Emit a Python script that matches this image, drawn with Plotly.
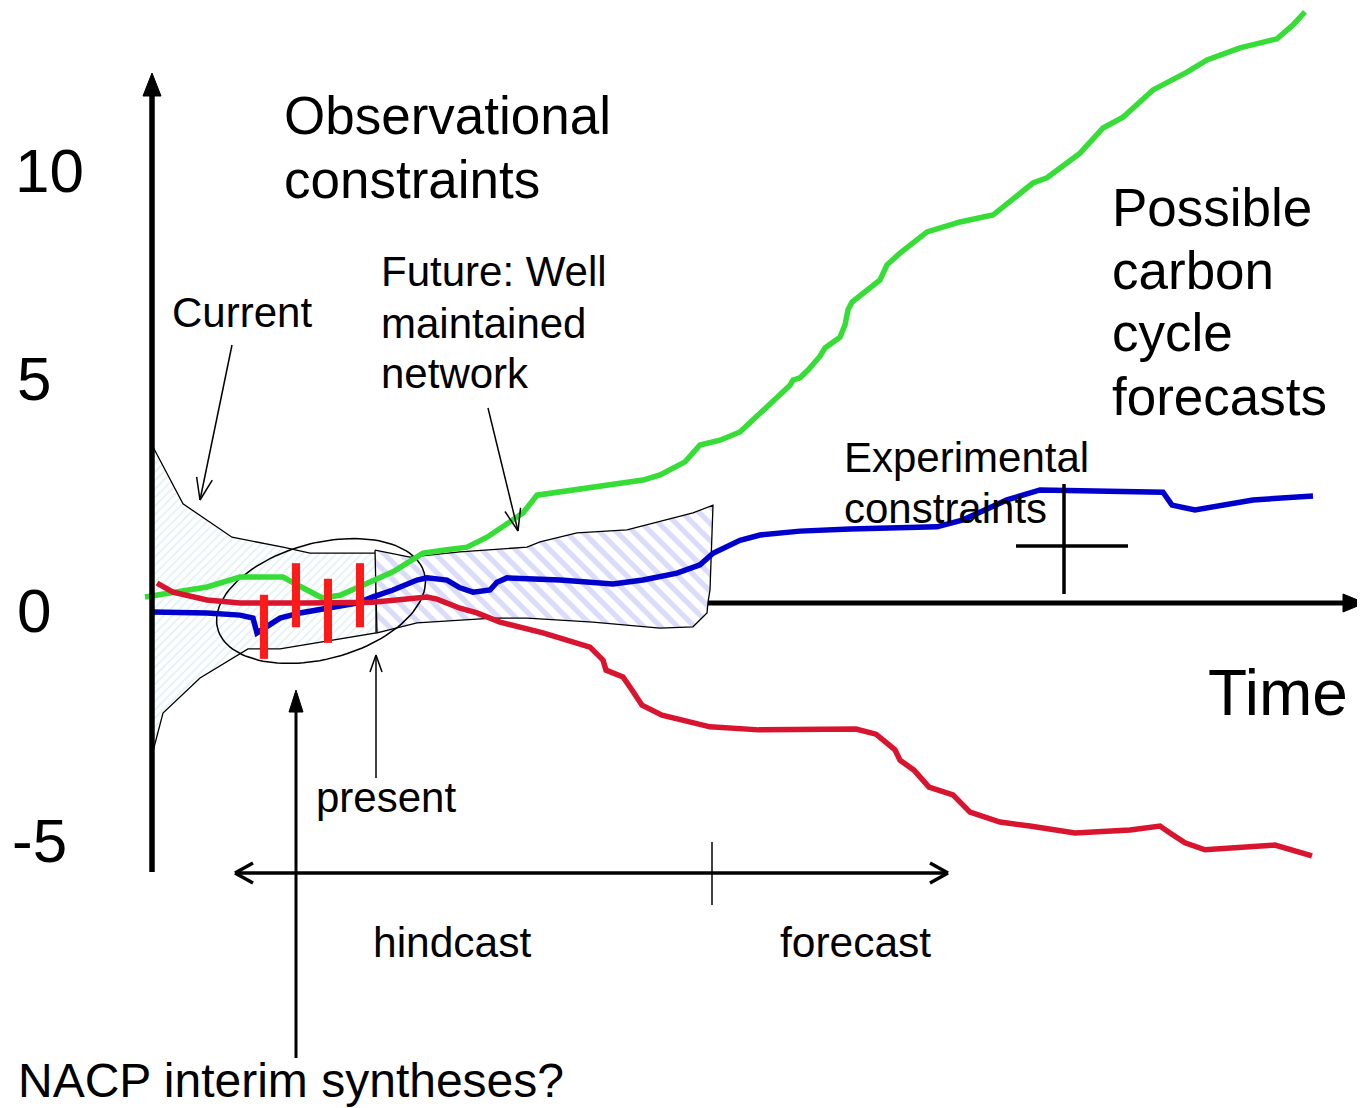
import math
import plotly.graph_objects as go

# ---------------- data (x: time units, y: flux units) ----------------
green_x = [145, 173, 207, 240, 283, 297, 322, 340, 367, 393, 407, 423, 443, 467, 487, 507, 523, 537,
           560, 593, 643, 660, 685, 700, 720, 740, 760, 775, 790, 793, 800, 808, 820, 825, 840, 845,
           848, 852, 880, 887, 900, 927, 960, 993, 1033, 1047, 1080, 1103, 1123, 1153, 1187, 1207,
           1240, 1277, 1293, 1305]
green_y = [0.14, 0.25, 0.37, 0.60, 0.60, 0.42, 0.12, 0.18, 0.46, 0.72, 0.92, 1.15, 1.22, 1.29, 1.52,
           1.85, 2.08, 2.49, 2.56, 2.68, 2.84, 2.96, 3.26, 3.65, 3.76, 3.95, 4.39, 4.73, 5.03, 5.15,
           5.20, 5.38, 5.70, 5.89, 6.14, 6.42, 6.77, 6.95, 7.46, 7.81, 8.08, 8.57, 8.80, 8.96, 9.70,
           9.82, 10.39, 10.97, 11.22, 11.85, 12.26, 12.54, 12.82, 13.03, 13.35, 13.65]

blue_x = [152, 207, 240, 253, 257, 267, 280, 300, 327, 357, 373, 393, 417, 427, 447, 460, 473, 490,
          497, 507, 560, 600, 613, 643, 677, 700, 713, 740, 760, 800, 850, 937, 963, 1007, 1040,
          1163, 1172, 1195, 1253, 1313]
blue_y = [-0.21, -0.23, -0.28, -0.35, -0.69, -0.55, -0.35, -0.23, -0.12, 0.00, 0.14, 0.30, 0.53,
          0.58, 0.53, 0.35, 0.25, 0.30, 0.48, 0.58, 0.53, 0.48, 0.44, 0.53, 0.69, 0.88, 1.15, 1.45,
          1.57, 1.66, 1.71, 1.76, 1.92, 2.38, 2.61, 2.56, 2.26, 2.15, 2.38, 2.47]

red_x = [157, 173, 207, 240, 307, 373, 427, 437, 460, 477, 500, 543, 590, 603, 606, 623, 632, 642,
         662, 710, 759, 856, 876, 895, 900, 914, 929, 953, 970, 1000, 1030, 1075, 1130, 1160, 1170,
         1185, 1205, 1240, 1275, 1312]
red_y = [0.46, 0.25, 0.07, 0.00, 0.00, 0.02, 0.14, 0.09, -0.12, -0.23, -0.44, -0.69, -1.02, -1.32,
         -1.55, -1.71, -2.01, -2.36, -2.59, -2.86, -2.93, -2.91, -3.03, -3.39, -3.63, -3.86, -4.25,
         -4.43, -4.83, -5.06, -5.15, -5.31, -5.24, -5.15, -5.31, -5.54, -5.70, -5.64, -5.59, -5.84]

# interim syntheses (centre and half-range)
synth_x = [264, 296, 328, 360]
synth_y = [-0.55, 0.18, -0.18, 0.18]
synth_err = [0.74, 0.74, 0.74, 0.74]

# observational constraint envelopes
current_x = [152, 183, 232, 283, 310, 376, 376, 280, 248, 200, 163, 152]
current_y = [3.65, 2.29, 1.52, 1.29, 1.15, 1.15, -0.69, -1.06, -1.06, -1.73, -2.54, -3.51]

future_x = [375, 410, 460, 527, 540, 577, 627, 693, 713, 710, 708, 707, 693, 660, 593, 527, 493,
            417, 377, 375]
future_y = [1.22, 1.06, 1.18, 1.29, 1.41, 1.62, 1.69, 2.08, 2.26, 0.30, 0.02, -0.23, -0.55, -0.58,
            -0.44, -0.35, -0.35, -0.46, -0.69, 1.22]

tick_labels = ["10", "5", "0", "-5"]

# ---------------- scale helpers for decorations ----------------
W, H = 1365, 1108
OFF = 8  # page body margin of the HTML page
Y0PIX, PXU = 603.0, 43.3


def Y(py):
    return (Y0PIX - py) / PXU


FONT = "Liberation Sans, Arial, sans-serif"

fig = go.Figure()

# envelopes
fig.add_trace(go.Scatter(
    x=current_x, y=current_y, mode="lines", fill="toself",
    line=dict(color="black", width=1.3),
    fillcolor="white",
    fillpattern=dict(shape="/", fgcolor="#c4e4ea", bgcolor="white", size=6, solidity=0.3),
    hoverinfo="skip", showlegend=False))
fig.add_trace(go.Scatter(
    x=future_x, y=future_y, mode="lines", fill="toself",
    line=dict(color="black", width=1.3),
    fillcolor="white",
    fillpattern=dict(shape="\\", fgcolor="#b8b8f5", bgcolor="white", size=12, solidity=0.45),
    hoverinfo="skip", showlegend=False))

# ellipse around the interim-synthesis period
cx, cy, a, b, th = 321, 601, 107, 58, math.radians(15)
ex, ey = [], []
for i in range(121):
    t = 2 * math.pi * i / 120
    px = cx + a * math.cos(t) * math.cos(th) - b * math.sin(t) * math.sin(th)
    py = cy - (a * math.cos(t) * math.sin(th) + b * math.sin(t) * math.cos(th))
    ex.append(px)
    ey.append(Y(py))
fig.add_trace(go.Scatter(x=ex, y=ey, mode="lines", line=dict(color="black", width=1.5),
                         hoverinfo="skip", showlegend=False))

# forecast lines
fig.add_trace(go.Scatter(x=green_x, y=green_y, mode="lines",
                         line=dict(color="#36dd36", width=5.5), showlegend=False))
fig.add_trace(go.Scatter(x=blue_x, y=blue_y, mode="lines",
                         line=dict(color="#0000cc", width=5.5), showlegend=False))
fig.add_trace(go.Scatter(x=red_x, y=red_y, mode="lines",
                         line=dict(color="#d9142e", width=5.5), showlegend=False))

# interim syntheses bars
fig.add_trace(go.Scatter(x=synth_x, y=synth_y, mode="markers",
                         marker=dict(size=1, color="rgba(0,0,0,0)"),
                         error_y=dict(type="data", array=synth_err, symmetric=True,
                                      color="#ff1a1a", thickness=8, width=0),
                         showlegend=False))

shapes = []


def seg(x0, py0, x1, py1, w, color="black"):
    shapes.append(dict(type="line", x0=x0, y0=Y(py0), x1=x1, y1=Y(py1),
                       line=dict(color=color, width=w), layer="above"))


def tri(pts):
    d = "M " + " L ".join(f"{x},{Y(py)}" for x, py in pts) + " Z"
    shapes.append(dict(type="path", path=d, fillcolor="black",
                       line=dict(color="black", width=1), layer="above"))


def chevron(x0, py0, x1, py1, w, ln=18, hw=8):
    # open arrowhead at (x1, py1) for a line from (x0, py0)
    dx, dy = x1 - x0, py1 - py0
    L = math.hypot(dx, dy)
    ux, uy = dx / L, dy / L
    bx, by = x1 - ux * ln, py1 - uy * ln
    seg(x1, py1, bx - uy * hw, by + ux * hw, w)
    seg(x1, py1, bx + uy * hw, by - ux * hw, w)


# axes
seg(152, 872, 152, 92, 5.5)
tri([(143, 96), (161, 96), (152, 73)])
seg(708, 603, 1345, 603, 5)
tri([(1343, 594), (1343, 612), (1365, 603)])

# experimental constraint cross
seg(1064, 484, 1064, 594, 3.5)
seg(1016, 546, 1128, 546, 3.5)

# hindcast / forecast double arrow
seg(236, 873, 947, 873, 3.5)
chevron(947, 873, 235, 873, 3.5, ln=18, hw=10)
chevron(236, 873, 948, 873, 3.5, ln=18, hw=10)
seg(712, 842, 712, 905, 1.5)

# NACP arrow
seg(296, 1058, 296, 708, 3)
tri([(289, 712), (303, 712), (296, 690)])

# present arrow
seg(376, 778, 376, 657, 1.5)
chevron(376, 778, 376, 655, 1.5, ln=17, hw=6)

# current arrow
seg(232, 345, 200, 500, 1.5)
chevron(232, 345, 200, 500, 1.5, ln=22, hw=8)

# future arrow
seg(488, 408, 518, 531, 1.5)
chevron(488, 408, 518, 531, 1.5, ln=22, hw=8)

annotations = []


def label(text, x, baseline, size, anchor="left"):
    annotations.append(dict(text=text, x=x, y=Y(baseline - 0.35 * size), xref="x", yref="y",
                            xanchor=anchor, yanchor="middle", showarrow=False,
                            font=dict(family=FONT, size=size, color="black")))


# y tick labels
tick_base = [192, 400, 632, 862]
tick_left = [13, 15, 15, 10]
for t, bpy, lx in zip(tick_labels, tick_base, tick_left):
    label(t, lx, bpy, 62)

label("Observational", 282, 134, 53)
label("constraints", 282, 198, 53)
label("Possible", 1110, 226, 53)
label("carbon", 1110, 289, 53)
label("cycle", 1110, 351, 53)
label("forecasts", 1110, 415, 53)
label("Current", 170, 327, 42)
label("Future: Well", 379, 286, 42)
label("maintained", 379, 338, 42)
label("network", 379, 388, 42)
label("Experimental", 842, 472, 42)
label("constraints", 842, 523, 42)
label("Time", 1206, 715, 64)
label("present", 314, 812, 42)
label("hindcast", 371, 957, 42.5)
label("forecast", 778, 957, 42.5)
label("NACP interim syntheses?", 16, 1097, 48)

# the page places the figure OFF px from the top-left, so the figure covers
# page pixels OFF..W and OFF..H; axis ranges follow that window
fig.update_layout(
    width=W - OFF, height=H - OFF,
    margin=dict(l=0, r=0, t=0, b=0),
    paper_bgcolor="white", plot_bgcolor="white",
    xaxis=dict(range=[OFF, W], visible=False, fixedrange=True),
    yaxis=dict(range=[Y(H), Y(OFF)], visible=False, fixedrange=True),
    shapes=shapes, annotations=annotations,
    showlegend=False,
)

fig.write_html("out.html", config=dict(displayModeBar=False))
